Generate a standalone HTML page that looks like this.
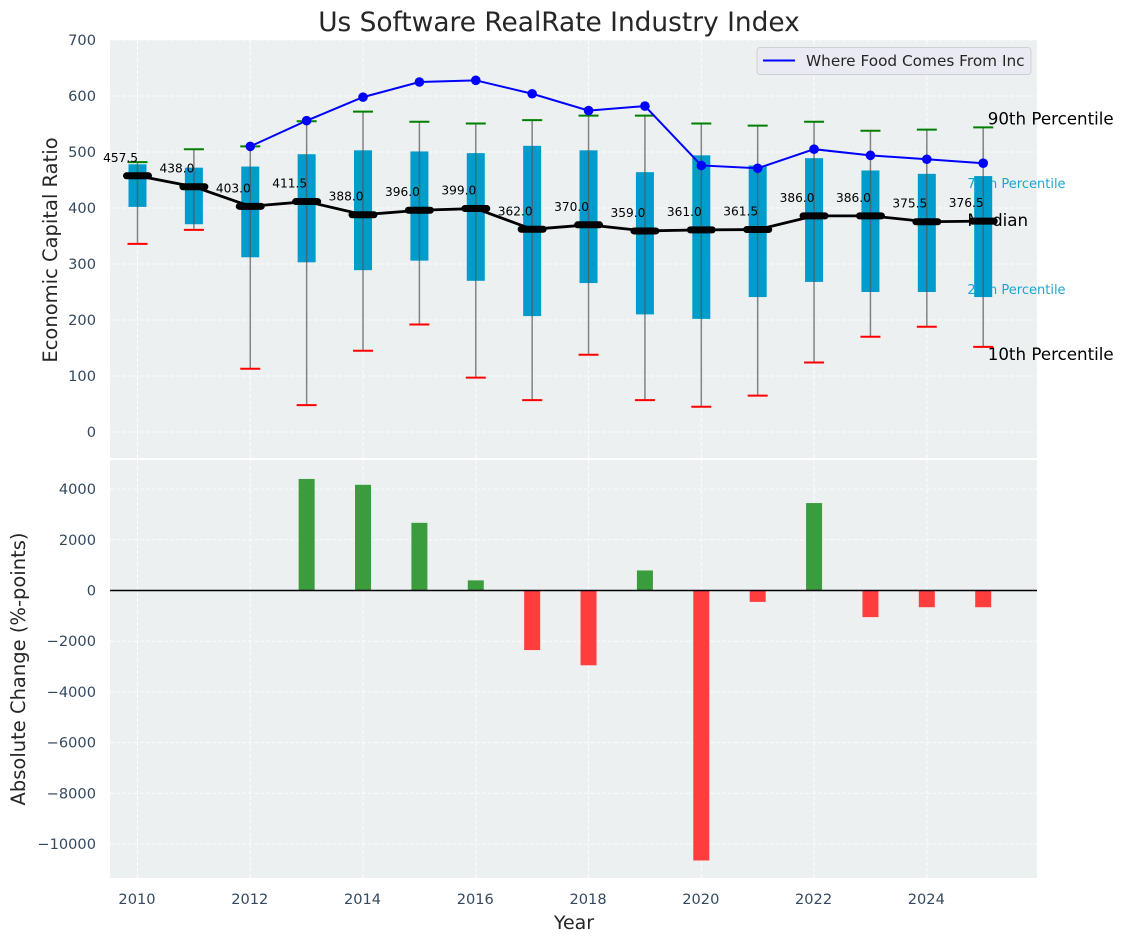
<!DOCTYPE html>
<html>
<head>
<meta charset="utf-8">
<title>Us Software RealRate Industry Index</title>
<style>
html,body{margin:0;padding:0;background:#fff;}
svg{display:block;font-family:"DejaVu Sans","Liberation Sans",sans-serif;}
</style>
</head>
<body>
<svg id="chart" width="1123" height="942" viewBox="0 0 1123 942" xmlns="http://www.w3.org/2000/svg">
  <text x="559" y="31" text-anchor="middle" font-size="26.4" fill="#262626">Us Software RealRate Industry Index</text>
  <rect x="110" y="40" width="927" height="418" fill="#ecf0f1"/>
  <rect x="110" y="460" width="927" height="418" fill="#ecf0f1"/>
  <g id="grid"></g>
  <g id="labels-under"></g>
  <g id="boxes"></g>
  <g id="whiskers"></g>
  <g id="medians"></g>
  <g id="company"></g>
  <g id="value-labels"></g>
  <g id="bars"></g>
  <line x1="110" x2="1037" y1="590.5" y2="590.5" stroke="#000" stroke-width="1.5"/>
  <g id="ticks"></g>
  <text transform="translate(57 250) rotate(-90)" text-anchor="middle" font-size="19.5" fill="#262626">Economic Capital Ratio</text>
  <text transform="translate(25 669) rotate(-90)" text-anchor="middle" font-size="19.5" fill="#262626">Absolute Change (%-points)</text>
  <text x="574" y="929" text-anchor="middle" font-size="19" fill="#262626">Year</text>
  <g>
    <rect x="757" y="47.5" width="274" height="27" rx="3" fill="#eaeaf2" stroke="#cfcfd4"/>
    <line x1="763" x2="795" y1="60.5" y2="60.5" stroke="#0000ff" stroke-width="2"/>
    <text x="806" y="66" font-size="15.3" fill="#262626">Where Food Comes From Inc</text>
  </g>
</svg>
<script>
const years = [2010,2011,2012,2013,2014,2015,2016,2017,2018,2019,2020,2021,2022,2023,2024,2025];
const p90 = [482,505,510,555,572,554,551,557,565,565,551,547,554,538,540,544];
const p75 = [478,472,474,496,503,501,498,511,503,464,494,476,489,467,461,457];
const median = [457.5,438,403,411.5,388,396,399,362,370,359,361,361.5,386,386,375.5,376.5];
const p25 = [402,371,312,303,289,306,270,207,266,210,202,241,268,250,250,241];
const p10 = [336,361,113,48,145,192,97,57,138,57,45,65,124,170,188,152];
const companyValues = [null,null,510,556,598,625,628,604,574,582,476,471,505,494,487,480];
const changeValues = [null,null,null,4400,4170,2670,400,-2350,-2950,790,-10650,-450,3450,-1050,-660,-660];
const xTickLabels = [2010,2012,2014,2016,2018,2020,2022,2024];
const topTickLabels = [0,100,200,300,400,500,600,700];
const bottomTickLabels = [-10000,-8000,-6000,-4000,-2000,0,2000,4000];

const NS = 'http://www.w3.org/2000/svg';
const xScale = v => 137.5 + (v - 2010) * 56.38;
const yTop = v => 432 - v * 0.56;
const yBottom = v => 590.5 - v * 0.02535;

function make(parentId, tag, attrs) {
  const el = document.createElementNS(NS, tag);
  Object.keys(attrs).forEach(k => el.setAttribute(k, attrs[k]));
  document.getElementById(parentId).appendChild(el);
  return el;
}

// grid
xTickLabels.forEach(t => {
  const a = make('grid', 'line', {x1:xScale(t), x2:xScale(t), y1:40, y2:458, stroke:'#fff', 'stroke-width':1, 'stroke-dasharray':'4 2', opacity:0.85});
  
  
  const b = make('grid', 'line', {x1:xScale(t), x2:xScale(t), y1:460, y2:878, stroke:'#fff', 'stroke-width':1, 'stroke-dasharray':'4 2', opacity:0.85});
  
  
  const l = make('ticks', 'text', {x:xScale(t)-0.5, y:904, 'text-anchor':'middle', 'font-size':14.6, fill:'#34495e'});
  
  
  l.textContent = t;
});
topTickLabels.forEach(t => {
  const g = make('grid', 'line', {x1:110, x2:1037, y1:yTop(t), y2:yTop(t), stroke:'#fff', 'stroke-width':1, 'stroke-dasharray':'4 2', opacity:0.85});
  
  
  const l = make('ticks', 'text', {x:96, y:yTop(t)+5, 'text-anchor':'end', 'font-size':14.6, fill:'#34495e'});
  
  
  l.textContent = t;
});
bottomTickLabels.forEach(t => {
  const g = make('grid', 'line', {x1:110, x2:1037, y1:yBottom(t), y2:yBottom(t), stroke:'#fff', 'stroke-width':1, 'stroke-dasharray':'4 2', opacity:0.85});
  
  
  const l = make('ticks', 'text', {x:96, y:yBottom(t)+5, 'text-anchor':'end', 'font-size':14.6, fill:'#34495e'});
  
  
  l.textContent = String(t).replace('-', '\u2212');
});

// percentile annotations anchored to the last year
const lastIndex = years.length - 1;
const lastYear = years[lastIndex];
const t90 = make('labels-under', 'text', {x:xScale(lastYear+0.08), y:yTop(p90[lastIndex])-3, 'font-size':16.7, fill:'#000'});


t90.textContent = '90th Percentile';
const t75 = make('labels-under', 'text', {x:xScale(lastYear-0.28), y:yTop(p75[lastIndex])+12, 'font-size':13, fill:'#00a0d0', opacity:0.9});


t75.textContent = '75th Percentile';
const tMed = make('labels-under', 'text', {x:xScale(lastYear-0.28), y:yTop(median[lastIndex])+5, 'font-size':16.7, fill:'#000'});


tMed.textContent = 'Median';
const t25 = make('labels-under', 'text', {x:xScale(lastYear-0.28), y:yTop(p25[lastIndex])-3, 'font-size':13, fill:'#00a0d0', opacity:0.9});


t25.textContent = '25th Percentile';
const t10 = make('labels-under', 'text', {x:xScale(lastYear+0.08), y:yTop(p10[lastIndex])+13, 'font-size':16.7, fill:'#000'});


t10.textContent = '10th Percentile';

// boxes, whiskers, caps
years.forEach((yr, i) => {
  const cx = xScale(yr);
  const box = make('boxes', 'rect', {x:cx-9, y:yTop(p75[i]), width:18, height:yTop(p25[i])-yTop(p75[i]), fill:'#009ccc'});
  
  
  const w = make('whiskers', 'line', {x1:cx, x2:cx, y1:yTop(p90[i]), y2:yTop(p10[i]), stroke:'#555', 'stroke-width':1.5, opacity:0.7});
  
  
  const c1 = make('whiskers', 'line', {x1:cx-10, x2:cx+10, y1:yTop(p90[i]), y2:yTop(p90[i]), stroke:'#008000', 'stroke-width':2});
  
  
  const c2 = make('whiskers', 'line', {x1:cx-10, x2:cx+10, y1:yTop(p10[i]), y2:yTop(p10[i]), stroke:'#ff0000', 'stroke-width':2});
  
  
});

// median line and dashes
const medLine = make('medians', 'polyline', {points:years.map((yr,i)=>xScale(yr)+','+yTop(median[i])).join(' '), fill:'none', stroke:'#000', 'stroke-width':2.8});


years.forEach((yr, i) => {
  const d = make('medians', 'line', {x1:xScale(yr)-11, x2:xScale(yr)+11, y1:yTop(median[i]), y2:yTop(median[i]), stroke:'#000', 'stroke-width':7, 'stroke-linecap':'round'});
  
  
  const v = make('value-labels', 'text', {x:xScale(yr)+0.5, y:yTop(median[i])-14, 'text-anchor':'end', 'font-size':12.2, fill:'#000'});
  
  
  v.textContent = median[i].toFixed(1);
});

// company series
const companyPoints = years.map((yr,i)=>companyValues[i]===null?null:xScale(yr)+','+yTop(companyValues[i])).filter(Boolean).join(' ');
const compLine = make('company', 'polyline', {points:companyPoints, fill:'none', stroke:'#0000ff', 'stroke-width':2});


years.forEach((yr, i) => {
  if (companyValues[i] === null) return;
  const p = make('company', 'circle', {cx:xScale(yr), cy:yTop(companyValues[i]), r:4.8, fill:'#0000ff'});
  
  
});

// bars
years.forEach((yr, i) => {
  const v = changeValues[i];
  if (v === null) return;
  const y0 = yBottom(Math.max(v, 0));
  const y1 = yBottom(Math.min(v, 0));
  const b = make('bars', 'rect', {x:xScale(yr)-8, y:y0, width:16, height:y1-y0, fill:v>=0?'#3b9c3e':'#ff3d3d'});
  
  
});
</script>
</body>
</html>
